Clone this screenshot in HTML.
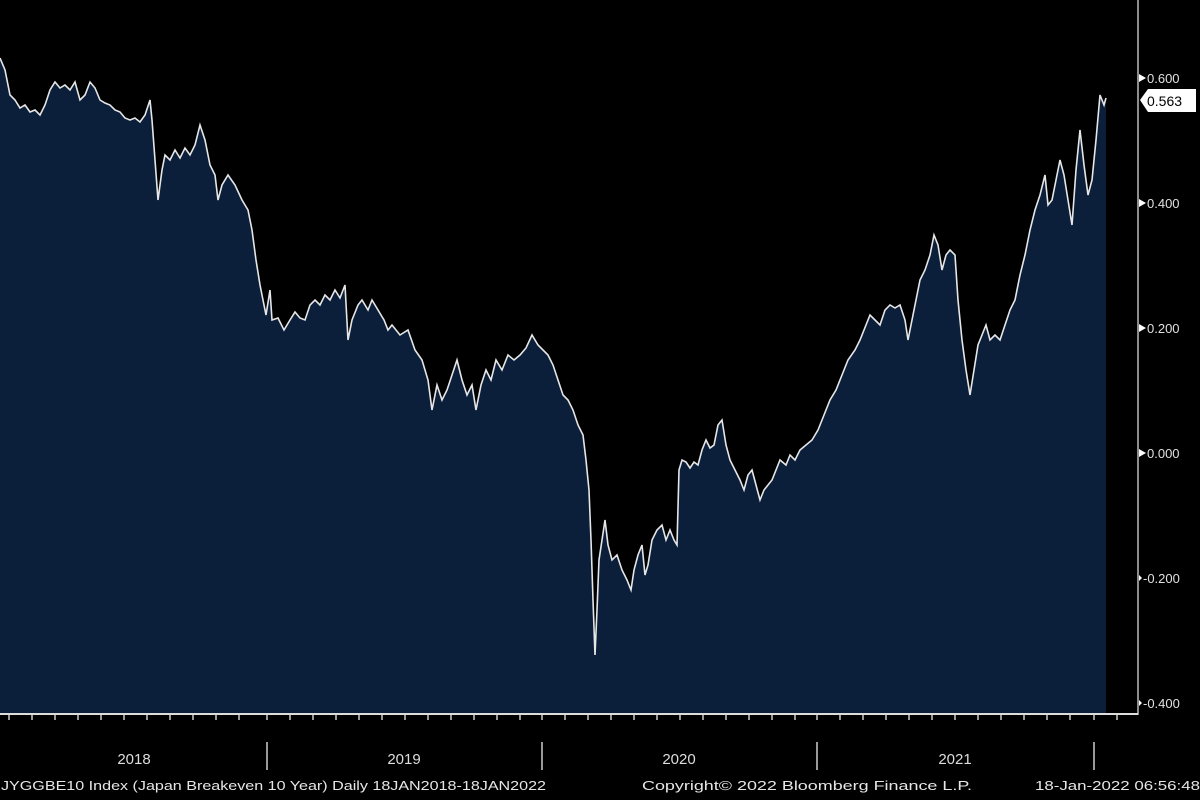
<!DOCTYPE html>
<html><head><meta charset="utf-8"><style>
html,body{margin:0;padding:0;background:#000;width:1200px;height:800px;overflow:hidden}
svg text{font-family:"Liberation Sans",sans-serif;}
</style></head><body>
<svg width="1200" height="800" viewBox="0 0 1200 800" xmlns="http://www.w3.org/2000/svg">
<rect width="1200" height="800" fill="#000"/>
<polygon fill="#0b1f3b" points="0,713 0,58 5,70 10,95 15,100 20,108 25,105 30,112 35,110 40,115 45,105 50,90 55,82 60,88 65,85 70,90 75,82 80,100 85,95 90,82 95,88 100,100 105,103 110,105 115,110 120,112 125,118 130,120 135,118 140,122 145,115 150,100 152,120 155,160 158,200 162,170 165,155 170,160 175,150 180,158 185,148 190,155 195,145 200,125 205,140 210,165 215,175 218,200 222,185 228,175 235,185 242,200 248,210 252,230 256,260 260,285 263,300 266,315 270,290 272,320 278,318 284,330 290,320 295,312 300,318 305,320 310,305 315,300 320,305 325,295 330,300 335,290 340,298 345,285 348,340 352,320 358,305 362,300 368,310 372,300 378,310 384,320 388,330 392,325 400,335 408,330 415,350 422,360 428,380 432,410 437,385 442,400 447,390 452,375 457,360 462,380 467,395 472,385 476,410 481,385 486,370 491,380 496,360 502,370 508,355 514,360 520,355 526,348 532,335 538,345 543,350 548,355 553,365 558,380 563,395 568,400 573,410 578,425 583,435 586,460 589,490 591,540 593,600 595,655 597,610 599,560 602,540 605,520 608,545 612,560 617,555 622,570 627,580 631,590 634,570 638,555 642,545 645,575 648,565 652,540 657,530 662,525 666,540 670,530 674,540 677,545 679,470 682,460 686,462 690,468 694,462 698,465 702,450 706,440 710,448 714,445 718,425 722,420 726,445 730,460 735,470 740,480 744,490 748,475 752,470 756,485 760,500 764,490 768,485 772,480 776,470 780,460 786,465 790,455 795,460 800,450 806,445 812,440 818,430 824,415 830,400 836,390 842,375 848,360 855,350 860,340 866,325 870,315 875,320 880,325 885,310 890,305 895,308 900,305 905,320 908,340 912,320 916,300 920,280 925,270 930,255 934,235 938,245 942,270 946,255 950,250 955,255 958,300 962,340 966,370 970,395 974,370 978,345 982,335 986,325 990,340 995,335 1000,340 1005,325 1010,310 1015,300 1020,275 1025,255 1030,230 1035,210 1040,195 1045,175 1048,205 1052,200 1056,180 1060,160 1064,175 1068,200 1072,225 1076,170 1080,130 1084,165 1088,195 1092,180 1096,140 1100,95 1104,105 1106,98 1106,713"/>
<polyline fill="none" stroke="#e6e6e6" stroke-width="1.6" points="0,58 5,70 10,95 15,100 20,108 25,105 30,112 35,110 40,115 45,105 50,90 55,82 60,88 65,85 70,90 75,82 80,100 85,95 90,82 95,88 100,100 105,103 110,105 115,110 120,112 125,118 130,120 135,118 140,122 145,115 150,100 152,120 155,160 158,200 162,170 165,155 170,160 175,150 180,158 185,148 190,155 195,145 200,125 205,140 210,165 215,175 218,200 222,185 228,175 235,185 242,200 248,210 252,230 256,260 260,285 263,300 266,315 270,290 272,320 278,318 284,330 290,320 295,312 300,318 305,320 310,305 315,300 320,305 325,295 330,300 335,290 340,298 345,285 348,340 352,320 358,305 362,300 368,310 372,300 378,310 384,320 388,330 392,325 400,335 408,330 415,350 422,360 428,380 432,410 437,385 442,400 447,390 452,375 457,360 462,380 467,395 472,385 476,410 481,385 486,370 491,380 496,360 502,370 508,355 514,360 520,355 526,348 532,335 538,345 543,350 548,355 553,365 558,380 563,395 568,400 573,410 578,425 583,435 586,460 589,490 591,540 593,600 595,655 597,610 599,560 602,540 605,520 608,545 612,560 617,555 622,570 627,580 631,590 634,570 638,555 642,545 645,575 648,565 652,540 657,530 662,525 666,540 670,530 674,540 677,545 679,470 682,460 686,462 690,468 694,462 698,465 702,450 706,440 710,448 714,445 718,425 722,420 726,445 730,460 735,470 740,480 744,490 748,475 752,470 756,485 760,500 764,490 768,485 772,480 776,470 780,460 786,465 790,455 795,460 800,450 806,445 812,440 818,430 824,415 830,400 836,390 842,375 848,360 855,350 860,340 866,325 870,315 875,320 880,325 885,310 890,305 895,308 900,305 905,320 908,340 912,320 916,300 920,280 925,270 930,255 934,235 938,245 942,270 946,255 950,250 955,255 958,300 962,340 966,370 970,395 974,370 978,345 982,335 986,325 990,340 995,335 1000,340 1005,325 1010,310 1015,300 1020,275 1025,255 1030,230 1035,210 1040,195 1045,175 1048,205 1052,200 1056,180 1060,160 1064,175 1068,200 1072,225 1076,170 1080,130 1084,165 1088,195 1092,180 1096,140 1100,95 1104,105 1106,98"/>
<line x1="1138" y1="0" x2="1138" y2="715" stroke="#bbb" stroke-width="1.5"/>
<line x1="0" y1="714" x2="1138" y2="714" stroke="#ddd" stroke-width="2"/>
<g stroke="#ccc" stroke-width="1.5">
<line x1="9" y1="715" x2="9" y2="720"/><line x1="32" y1="715" x2="32" y2="720"/><line x1="55" y1="715" x2="55" y2="720"/><line x1="78" y1="715" x2="78" y2="720"/><line x1="101" y1="715" x2="101" y2="720"/><line x1="124" y1="715" x2="124" y2="720"/><line x1="147" y1="715" x2="147" y2="720"/><line x1="170" y1="715" x2="170" y2="720"/><line x1="193" y1="715" x2="193" y2="720"/><line x1="216" y1="715" x2="216" y2="720"/><line x1="239" y1="715" x2="239" y2="720"/><line x1="267" y1="715" x2="267" y2="720"/><line x1="290" y1="715" x2="290" y2="720"/><line x1="313" y1="715" x2="313" y2="720"/><line x1="336" y1="715" x2="336" y2="720"/><line x1="359" y1="715" x2="359" y2="720"/><line x1="382" y1="715" x2="382" y2="720"/><line x1="405" y1="715" x2="405" y2="720"/><line x1="428" y1="715" x2="428" y2="720"/><line x1="451" y1="715" x2="451" y2="720"/><line x1="474" y1="715" x2="474" y2="720"/><line x1="497" y1="715" x2="497" y2="720"/><line x1="520" y1="715" x2="520" y2="720"/><line x1="542" y1="715" x2="542" y2="720"/><line x1="565" y1="715" x2="565" y2="720"/><line x1="588" y1="715" x2="588" y2="720"/><line x1="611" y1="715" x2="611" y2="720"/><line x1="634" y1="715" x2="634" y2="720"/><line x1="657" y1="715" x2="657" y2="720"/><line x1="680" y1="715" x2="680" y2="720"/><line x1="703" y1="715" x2="703" y2="720"/><line x1="726" y1="715" x2="726" y2="720"/><line x1="749" y1="715" x2="749" y2="720"/><line x1="772" y1="715" x2="772" y2="720"/><line x1="795" y1="715" x2="795" y2="720"/><line x1="817" y1="715" x2="817" y2="720"/><line x1="840" y1="715" x2="840" y2="720"/><line x1="863" y1="715" x2="863" y2="720"/><line x1="886" y1="715" x2="886" y2="720"/><line x1="909" y1="715" x2="909" y2="720"/><line x1="932" y1="715" x2="932" y2="720"/><line x1="955" y1="715" x2="955" y2="720"/><line x1="978" y1="715" x2="978" y2="720"/><line x1="1001" y1="715" x2="1001" y2="720"/><line x1="1024" y1="715" x2="1024" y2="720"/><line x1="1047" y1="715" x2="1047" y2="720"/><line x1="1070" y1="715" x2="1070" y2="720"/><line x1="1094" y1="715" x2="1094" y2="720"/><line x1="1117" y1="715" x2="1117" y2="720"/>
<line x1="267" y1="742" x2="267" y2="770"/><line x1="542" y1="742" x2="542" y2="770"/><line x1="817" y1="742" x2="817" y2="770"/><line x1="1094" y1="742" x2="1094" y2="770"/>
</g>
<g fill="#ddd" font-size="15" text-anchor="middle">
<text x="134" y="764">2018</text><text x="404" y="764">2019</text><text x="679" y="764">2020</text><text x="955" y="764">2021</text>
</g>
<g fill="#e0e0e0" font-size="13">
<polygon points="1139,74 1146,78 1139,82" fill="#fff"/><text x="1147" y="83">0.600</text>
<polygon points="1139,199 1146,203 1139,207" fill="#fff"/><text x="1147" y="208">0.400</text>
<polygon points="1139,324 1146,328 1139,332" fill="#fff"/><text x="1147" y="333">0.200</text>
<polygon points="1139,449 1146,453 1139,457" fill="#fff"/><text x="1147" y="458">0.000</text>
<polygon points="1139,575 1142,578 1139,581" fill="#fff"/><text x="1143" y="583">-0.200</text>
<polygon points="1139,700 1142,703 1139,706" fill="#fff"/><text x="1143" y="708">-0.400</text>
</g>
<polygon points="1140,100 1148,89 1196,89 1196,112 1148,112" fill="#fff"/>
<text x="1147" y="106" font-size="14" fill="#000">0.563</text>
<g fill="#e6e6e6" font-size="13">
<text x="1" y="790" textLength="545" lengthAdjust="spacingAndGlyphs">JYGGBE10 Index (Japan Breakeven 10 Year)  Daily 18JAN2018-18JAN2022</text>
<text x="642" y="790" textLength="330" lengthAdjust="spacingAndGlyphs">Copyright© 2022 Bloomberg Finance L.P.</text>
<text x="1035" y="790" textLength="165" lengthAdjust="spacingAndGlyphs">18-Jan-2022 06:56:48</text>
</g>
</svg>
</body></html>
